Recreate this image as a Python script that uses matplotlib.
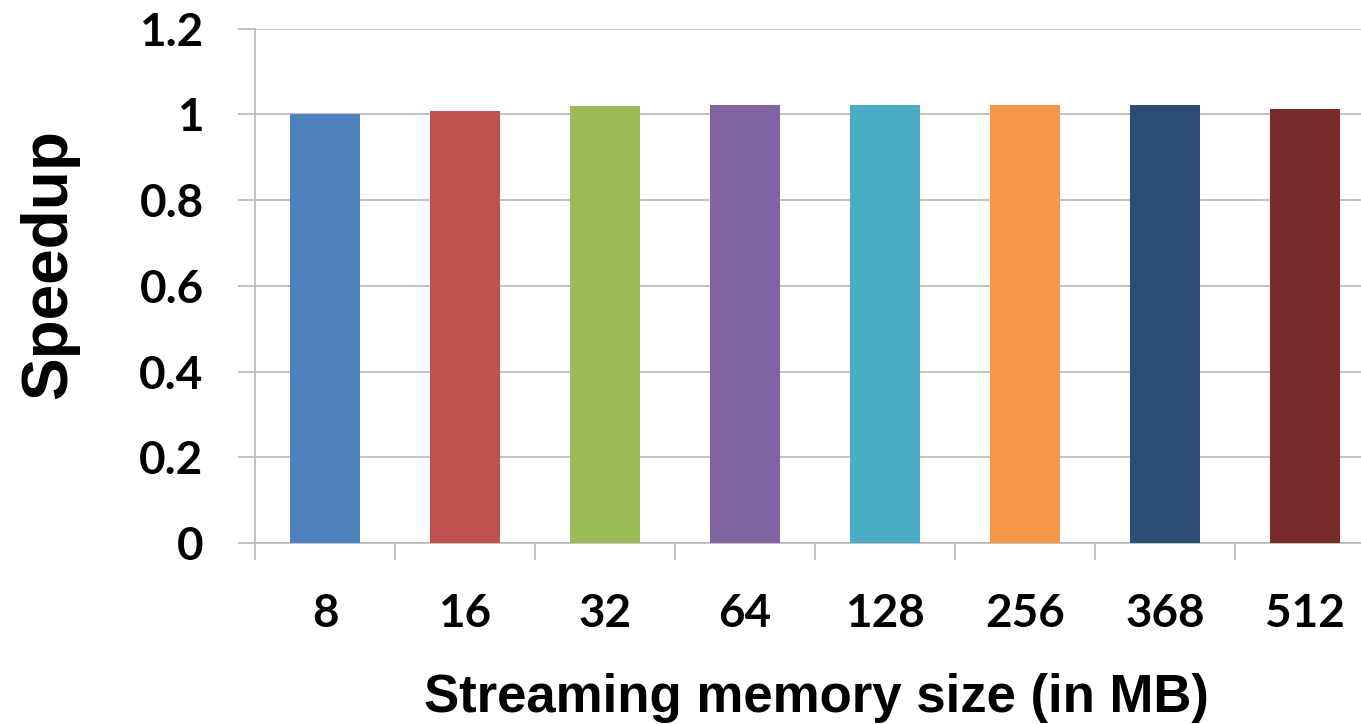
import numpy as np
import matplotlib.pyplot as plt
from matplotlib.ticker import FixedLocator, NullFormatter

# speedup for each streaming memory size
sizes = ['8', '16', '32', '64', '128', '256', '368', '512']
speedup = [1.000, 1.007, 1.019, 1.023, 1.023, 1.021, 1.021, 1.012]
colors = ['#4F81BD', '#C0504D', '#9BBB59', '#8064A2',
          '#4BACC6', '#F79646', '#2C4D75', '#772C2A']

grid_col = '#B3B3B3'

fig = plt.figure(figsize=(13.61, 7.24), dpi=100)
# plot area runs a little past the right edge of the figure
ax = fig.add_axes([255/1361, 0.25, 1120/1361, 0.7104])

x = np.arange(len(sizes))
ax.bar(x, speedup, width=0.5, color=colors, zorder=3)

ax.set_xlim(-0.5, len(sizes) - 0.5)
ax.set_ylim(0, 1.2)
ax.set_yticks(np.arange(0, 1.21, 0.2))
ax.set_yticklabels(['0', '0.2', '0.4', '0.6', '0.8', '1', '1.2'])
ax.yaxis.grid(True, color=grid_col, lw=1.1, zorder=0)

# tick marks between categories, labels under each bar
ax.xaxis.set_major_locator(FixedLocator(np.arange(-0.5, len(sizes), 1.0)))
ax.xaxis.set_major_formatter(NullFormatter())
ax.xaxis.set_minor_locator(FixedLocator(x))
ax.set_xticklabels(sizes, minor=True)
ax.tick_params(axis='x', which='major', direction='out', length=12, width=1.1, color=grid_col)
ax.tick_params(axis='x', which='minor', length=0, pad=36)
ax.tick_params(axis='y', direction='out', length=12, width=1.1, color=grid_col, pad=25)

for lab in ax.get_xticklabels(minor=True) + ax.get_yticklabels():
    lab.set_fontfamily('Lato')
    lab.set_fontweight('bold')
    lab.set_fontsize(33)

for s in ['top', 'right']:
    ax.spines[s].set_visible(False)
ax.spines['left'].set_color(grid_col)
ax.spines['left'].set_linewidth(1.1)
ax.spines['bottom'].set_color(grid_col)
ax.spines['bottom'].set_linewidth(1.1)

fig.text(816/1361, 1 - 712/724, 'Streaming memory size (in MB)', ha='center', va='baseline',
         fontfamily='Liberation Sans', fontweight='bold', fontsize=38)
fig.text(49/1361, 1 - 264/724, 'Speedup', ha='center', va='center', rotation=90,
         fontfamily='Liberation Sans', fontweight='bold', fontsize=46)

fig.savefig('out.png', dpi=100)
